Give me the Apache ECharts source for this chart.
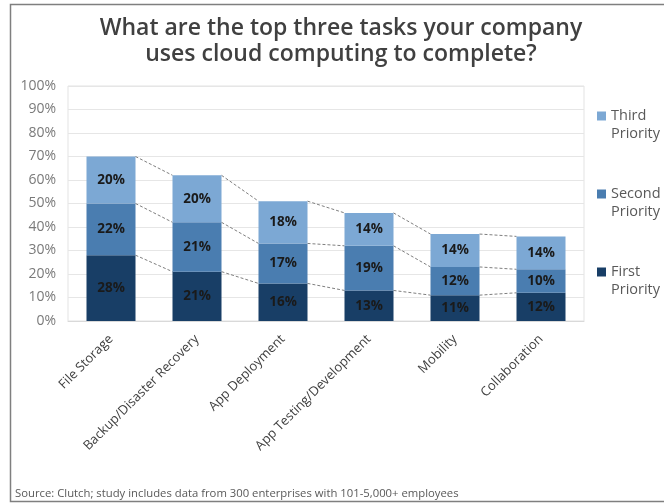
<!DOCTYPE html>
<html>
<head>
<meta charset="utf-8">
<script src="https://cdn.jsdelivr.net/npm/echarts@6/dist/echarts.min.js"></script>
<style>
  html, body { margin: 0; padding: 0; background: #ffffff; }
  #chart { width: 664px; height: 504px; }
</style>
</head>
<body>
<div id="chart"></div>
<script>
// Survey results: share of companies naming each task as a top-three cloud use
const categories = ['File Storage', 'Backup/Disaster Recovery', 'App Deployment', 'App Testing/Development', 'Mobility', 'Collaboration'];
const firstPriority  = [28, 21, 16, 13, 11, 12];
const secondPriority = [22, 21, 17, 19, 12, 10];
const thirdPriority  = [20, 20, 18, 14, 14, 14];
const yTicks = { min: 0, max: 100, interval: 10 };

const seriesNames = ['First Priority', 'Second Priority', 'Third Priority'];
const seriesColors = ['#183e66', '#4a7db0', '#7ca8d4'];
const BAR_WIDTH = 49;

// Running totals at each stack boundary, used for the dashed connectors
const cumFirst = firstPriority.slice();
const cumSecond = firstPriority.map((v, i) => v + secondPriority[i]);
const cumThird = cumSecond.map((v, i) => v + thirdPriority[i]);
const levels = [cumFirst, cumSecond, cumThird];

const FONT = '"Open Sans", "Noto Sans", sans-serif';

function barSeries(name, data, color) {
  return {
    name: name,
    type: 'bar',
    stack: 'total',
    barWidth: BAR_WIDTH,
    data: data,
    itemStyle: { color: color },
    label: {
      show: true,
      position: 'inside',
      formatter: '{c}%',
      fontFamily: FONT,
      fontSize: 13.5,
      fontWeight: 'bold',
      color: '#1a1a1a'
    },
    emphasis: { disabled: true }
  };
}

const chart = echarts.init(document.getElementById('chart'), null, { renderer: 'canvas' });

chart.setOption({
  animation: false,
  backgroundColor: '#ffffff',
  textStyle: { fontFamily: FONT },
  title: [
    {
      text: 'What are the top three tasks your company\nuses cloud computing to complete?',
      left: 341,
      textAlign: 'center',
      top: 15,
      padding: 0,
      textStyle: {
        fontFamily: FONT,
        fontSize: 23,
        fontWeight: 600,
        color: '#404040',
        lineHeight: 26
      }
    },
    {
      text: 'Source: Clutch; study includes data from 300 enterprises with 101-5,000+ employees',
      left: 15,
      top: 488,
      padding: 0,
      textStyle: {
        fontFamily: FONT,
        fontSize: 11.3,
        fontWeight: 'normal',
        color: '#595959'
      }
    }
  ],
  legend: {
    orient: 'vertical',
    left: 597,
    top: 89,
    padding: 0,
    itemWidth: 9,
    itemHeight: 9,
    itemGap: 24,
    icon: 'rect',
    data: ['Third Priority', 'Second Priority', 'First Priority'],
    // leading blank line keeps the swatch level with the first word
    formatter: function (name) { return '\n' + name.replace(' ', '\n'); },
    textStyle: {
      fontFamily: FONT,
      fontSize: 14.5,
      color: '#595959',
      lineHeight: 18
    }
  },
  grid: {
    left: 68,
    right: 80,
    top: 86,
    bottom: 183,
    show: true,
    borderColor: '#e3e3e3',
    borderWidth: 1
  },
  xAxis: {
    type: 'category',
    data: categories,
    axisLine: { show: true, lineStyle: { color: '#d9d9d9' } },
    axisTick: { show: false },
    axisLabel: {
      interval: 0,
      rotate: 45,
      margin: 16,
      fontFamily: FONT,
      fontSize: 13,
      color: '#404040'
    }
  },
  yAxis: {
    type: 'value',
    min: yTicks.min,
    max: yTicks.max,
    interval: yTicks.interval,
    axisLine: { show: false },
    axisTick: { show: false },
    splitLine: { lineStyle: { color: '#e6e6e6' } },
    axisLabel: {
      formatter: '{value}%',
      margin: 12,
      fontFamily: FONT,
      fontSize: 14,
      color: '#7a7a7a'
    }
  },
  series: [
    barSeries(seriesNames[0], firstPriority, seriesColors[0]),
    barSeries(seriesNames[1], secondPriority, seriesColors[1]),
    barSeries(seriesNames[2], thirdPriority, seriesColors[2]),
    {
      // Dashed series lines joining each stack boundary to the next bar
      name: 'connectors',
      type: 'custom',
      silent: true,
      data: categories.map((c, i) => [i, cumThird[i]]),
      encode: { x: 0, y: 1 },
      renderItem: function (params, api) {
        const i = api.value(0);
        if (i >= categories.length - 1) return null;
        const half = BAR_WIDTH / 2;
        const children = levels.map(function (cum) {
          const a = api.coord([i, cum[i]]);
          const b = api.coord([i + 1, cum[i + 1]]);
          return {
            type: 'line',
            shape: { x1: a[0] + half, y1: a[1], x2: b[0] - half, y2: b[1] },
            style: { stroke: '#7f7f7f', lineWidth: 1, lineDash: [3, 2] }
          };
        });
        return { type: 'group', children: children };
      }
    }
  ],
  graphic: [
    {
      // Frame along the top, left and bottom edges
      type: 'polyline',
      shape: { points: [[664, 4.5], [10.5, 4.5], [10.5, 501.5], [664, 501.5]] },
      style: { stroke: '#7f7f7f', lineWidth: 1.5, fill: null },
      silent: true
    }
  ]
});
</script>
</body>
</html>
